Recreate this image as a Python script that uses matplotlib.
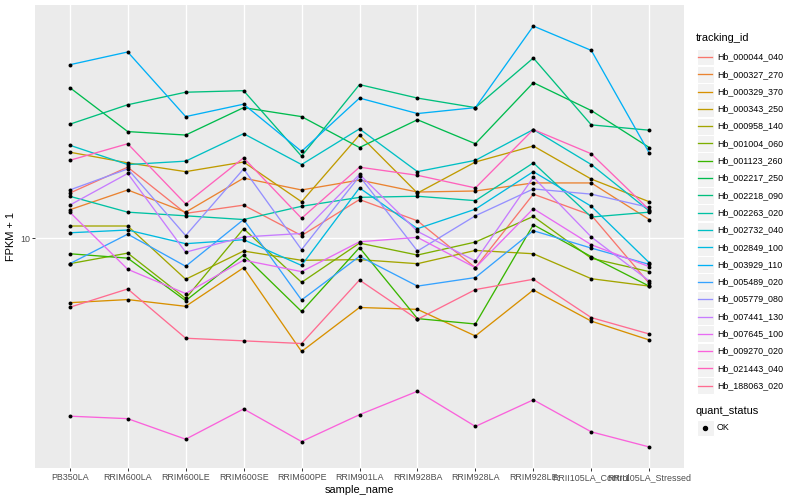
import numpy as np
import matplotlib
matplotlib.use("Agg")
import matplotlib.pyplot as plt
from matplotlib.patches import Rectangle
from matplotlib.lines import Line2D
from matplotlib.ticker import NullLocator

plt.rcParams['font.family'] = ['Liberation Sans', 'DejaVu Sans']

# samples on the x axis (order as shown)
samples = ["PB350LA", "RRIM600LA", "RRIM600LE", "RRIM600SE", "RRIM600PE",
           "RRIM901LA", "RRIM928BA", "RRIM928LA", "RRIM928LE",
           "RRII105LA_Control", "RRII105LA_Stressed"]

tracking_ids = ["Hb_000044_040", "Hb_000327_270", "Hb_000329_370", "Hb_000343_250",
                "Hb_000958_140", "Hb_001004_060", "Hb_001123_260", "Hb_002217_250",
                "Hb_002218_090", "Hb_002263_020", "Hb_002732_040", "Hb_002849_100",
                "Hb_003929_110", "Hb_005489_020", "Hb_005779_080", "Hb_007441_130",
                "Hb_007645_100", "Hb_009270_020", "Hb_021443_040", "Hb_188063_020"]

# FPKM + 1 per gene, one value per sample
hb_000044_040 = [13.7, 16.4, 11.9, 12.6, 10.2, 13.1, 11.3, 8.16, 13.6, 11.75, 7.32]
hb_000327_270 = [12.2, 14.0, 12.0, 15.2, 14.0, 15.0, 13.8, 13.9, 14.7, 14.7, 11.4]
hb_000329_370 = [6.40, 6.54, 6.24, 8.16, 4.56, 6.19, 6.11, 5.08, 6.99, 5.63, 4.94]
hb_000343_250 = [18.2, 16.9, 15.9, 17.0, 12.9, 20.5, 13.7, 17.0, 19.0, 15.1, 12.9]
hb_000958_140 = [10.9, 10.9, 7.53, 9.16, 8.59, 8.63, 8.39, 9.20, 8.99, 7.56, 7.18]
hb_001004_060 = [8.39, 9.03, 6.59, 10.7, 7.37, 9.68, 8.91, 9.75, 11.65, 8.71, 7.94]
hb_001123_260 = [8.99, 8.72, 6.49, 8.91, 6.02, 9.38, 5.73, 5.52, 11.0, 8.81, 7.18]
hb_002217_250 = [28.5, 21.0, 20.5, 24.8, 23.3, 18.8, 22.8, 19.3, 29.5, 24.3, 18.8]
hb_002218_090 = [22.1, 25.3, 27.6, 27.9, 17.7, 29.1, 26.5, 24.8, 35.0, 22.0, 21.2]
hb_002263_020 = [13.4, 12.0, 11.7, 11.4, 12.5, 13.3, 13.4, 13.0, 16.9, 11.6, 12.0]
hb_002732_040 = [19.1, 16.7, 17.1, 20.7, 16.7, 21.4, 15.9, 17.2, 21.3, 16.7, 12.1]
hb_002849_100 = [10.4, 10.6, 9.64, 9.91, 8.29, 14.2, 10.7, 12.25, 15.9, 12.5, 8.45]
hb_003929_110 = [33.4, 36.5, 23.3, 25.4, 18.3, 26.5, 23.8, 24.8, 43.7, 36.9, 18.1]
hb_005489_020 = [8.39, 10.3, 8.24, 11.4, 6.52, 8.83, 7.18, 7.62, 10.55, 9.35, 8.35]
hb_005779_080 = [14.0, 16.2, 10.2, 16.2, 9.25, 15.4, 9.16, 11.7, 14.1, 13.6, 12.4]
hb_007441_130 = [12.6, 15.7, 9.09, 10.1, 10.35, 15.6, 10.5, 8.55, 15.3, 10.1, 7.44]
hb_007645_100 = [12.0, 8.07, 6.82, 8.60, 7.94, 9.77, 10.07, 8.16, 12.3, 9.57, 8.22]
hb_009270_020 = [2.91, 2.86, 2.48, 3.06, 2.44, 2.94, 3.46, 2.71, 3.26, 2.61, 2.35]
hb_021443_040 = [17.2, 19.3, 12.7, 17.5, 11.5, 16.4, 15.5, 14.2, 21.3, 18.0, 12.2]
hb_188063_020 = [6.20, 7.04, 5.00, 4.91, 4.82, 7.49, 5.70, 7.01, 7.53, 5.77, 5.15]

series = [hb_000044_040, hb_000327_270, hb_000329_370, hb_000343_250, hb_000958_140,
          hb_001004_060, hb_001123_260, hb_002217_250, hb_002218_090, hb_002263_020,
          hb_002732_040, hb_002849_100, hb_003929_110, hb_005489_020, hb_005779_080,
          hb_007441_130, hb_007645_100, hb_009270_020, hb_021443_040, hb_188063_020]

# ggplot2 default hue palette for 20 groups
colors = ["#F8766D", "#EA8331", "#D89000", "#C09B00", "#A3A500", "#7CAE00", "#39B600",
          "#00BB4E", "#00BF7D", "#00C1A3", "#00BFC4", "#00BAE0", "#00B0F6", "#35A2FF",
          "#9590FF", "#C77CFF", "#E76BF3", "#FA62DB", "#FF62BC", "#FF6C91"]

quant_status = ["OK"]

W, H = 800, 500
fig = plt.figure(figsize=(W / 100, H / 100), dpi=100)


def fx(px):
    return px / W


def fy(py):
    return 1 - py / H


# Panel
ax = fig.add_axes([fx(35), fy(468), fx(684) - fx(35), (468 - 5) / H])
ax.set_facecolor('#EBEBEB')
x = np.arange(len(samples))
for vals, col in zip(series, colors):
    ax.plot(x, vals, color=col, lw=0.95, zorder=2)
for vals in series:
    ax.scatter(x, vals, s=8, color='black', zorder=3, linewidths=0)

ax.set_yscale('log')
logs = np.log10(np.concatenate(series))
lo, hi = logs.min(), logs.max()
pad = 0.05 * (hi - lo)
ax.set_ylim(10 ** (lo - pad), 10 ** (hi + pad))
ax.set_xlim(-0.6, len(samples) - 1 + 0.6)
ax.set_yticks([10])
ax.set_yticklabels(['10'])
ax.yaxis.set_minor_locator(NullLocator())
ax.set_xticks(x)
ax.set_xticklabels(samples)
ax.grid(True, color='white', lw=1.0)
ax.set_axisbelow(True)
for s in ax.spines.values():
    s.set_visible(False)
ax.tick_params(axis='both', colors='#333333', length=2.0, width=0.7,
               labelsize=6.4, labelcolor='#4D4D4D', pad=1.6)
ax.set_xlabel('sample_name', fontsize=7.9, labelpad=2.5)
ax.set_ylabel('FPKM + 1', fontsize=7.9, labelpad=3)

# Legend: tracking_id
fig.text(fx(696), fy(38), 'tracking_id', fontsize=7.9, va='center', ha='left')
for i, (tid, col) in enumerate(zip(tracking_ids, colors)):
    yc = 57 + i * 17.3
    fig.add_artist(Rectangle((fx(696.5), fy(yc + 8.4)), 17 / W, 16.8 / H,
                             transform=fig.transFigure, facecolor='#F2F2F2',
                             edgecolor='white', lw=0.8))
    fig.add_artist(Line2D([fx(698), fx(712)], [fy(yc), fy(yc)],
                          transform=fig.transFigure, color=col, lw=0.95))
    fig.text(fx(717), fy(yc), tid, fontsize=6.4, va='center', ha='left')

# Legend: quant_status
fig.text(fx(696), fy(411), 'quant_status', fontsize=7.9, va='center', ha='left')
for j, qs in enumerate(quant_status):
    yc = 428 + j * 17.3
    fig.add_artist(Rectangle((fx(696.5), fy(yc + 8.4)), 17 / W, 16.8 / H,
                             transform=fig.transFigure, facecolor='#F2F2F2',
                             edgecolor='white', lw=0.8))
    fig.add_artist(Line2D([fx(705)], [fy(yc)], transform=fig.transFigure,
                          marker='o', markersize=2.9, color='black', lw=0))
    fig.text(fx(717), fy(yc), qs, fontsize=6.4, va='center', ha='left')

fig.savefig('out.png', dpi=100)
